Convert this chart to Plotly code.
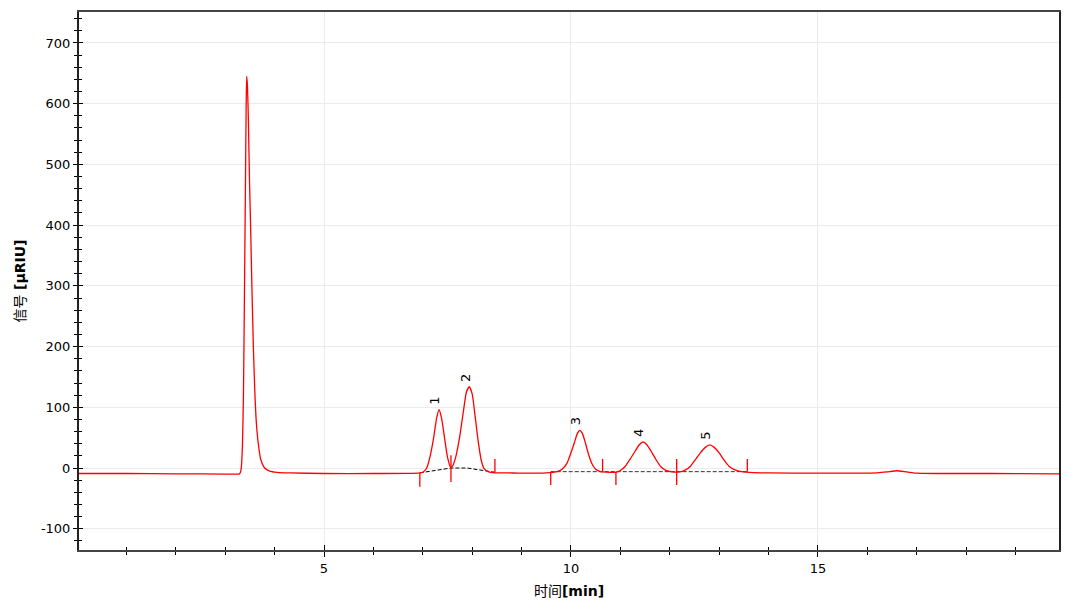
import plotly.graph_objects as go

# chromatogram trace (time in min, signal in µRIU)
time_min = [0.04, 1.0, 2.0, 3.0, 3.20, 3.28, 3.31, 3.33, 3.35, 3.37, 3.39, 3.41, 3.425, 3.435,
            3.45, 3.47, 3.49, 3.515, 3.54, 3.57, 3.60, 3.63, 3.67, 3.72, 3.80, 3.90, 4.05,
            4.3, 5.0, 6.0, 6.9, 7.00, 7.08, 7.15, 7.22, 7.28, 7.33, 7.38, 7.44, 7.50, 7.56,
            7.60, 7.66, 7.74, 7.82, 7.88, 7.94, 8.00, 8.06, 8.12, 8.18, 8.24, 8.32, 8.45,
            8.7, 9.0, 9.5, 9.72, 9.82, 9.92, 10.00, 10.07, 10.13, 10.18, 10.23, 10.29, 10.35,
            10.42, 10.50, 10.60, 10.8, 10.9, 11.0, 11.1, 11.2, 11.3, 11.38, 11.46, 11.54,
            11.62, 11.72, 11.82, 11.92, 12.05, 12.2, 12.3, 12.42, 12.52, 12.62, 12.72, 12.81,
            12.90, 13.00, 13.10, 13.20, 13.32, 13.45, 13.7, 14.0, 15.0, 15.8, 16.2, 16.4,
            16.59, 16.8, 17.0, 17.5, 18.5, 19.88]
signal = [-9, -9, -9.5, -10, -10, -10, -7, 5, 40, 125, 290, 470, 600, 645,
          630, 570, 480, 395, 300, 200, 125, 75, 40, 14, 0, -5, -7,
          -8, -9, -9, -8.5, -7, 0, 20, 50, 82, 96, 82, 50, 18, 2,
          3, 16, 48, 92, 124, 134, 122, 85, 45, 14, -1, -6, -8,
          -8, -8.5, -8, -6, -2, 8, 25, 42, 57, 62, 57, 42, 24,
          8, -2, -6, -7, -7, -4, 3, 15, 28, 38, 43, 38,
          28, 14, 2, -4, -6.5, -6.5, -4, 3, 14, 25, 34, 38,
          34, 25, 13, 3, -3, -6, -7.5, -8, -8.5, -8.5, -8, -6.5,
          -4.5, -6.5, -8.5, -9, -9, -9.5]

# axis ticks
x_ticks = [5, 10, 15]
y_ticks = [-100, 0, 100, 200, 300, 400, 500, 600, 700]
y_ticktext = ['-100', '0', '100', '200', '300', '400', '500', '600', '700']

# peak labels
peak_names = ['1', '2', '3', '4', '5']
peak_times = [7.33, 7.94, 10.18, 11.46, 12.81]
peak_heights = [96, 134, 62, 43, 38]

# integration marks: start/end drop lines (time, from, to)
mark_times = [6.94, 7.57, 8.46, 9.59, 10.64, 10.91, 12.14, 13.57]
mark_low = [-31, -23, -7, -28, -6, -28, -28, -6]
mark_high = [-8, 21, 15, -6, 15, -6, 15, 15]

# dashed baselines
base1_t = [6.94, 7.57, 7.9, 8.46]
base1_v = [-8, 0, 0, -7]
base2_t = [9.59, 13.57]
base2_v = [-6, -6]

fig = go.Figure()

fig.add_trace(go.Scatter(x=base1_t, y=base1_v, mode='lines',
                         line=dict(color='black', width=1, dash='4px,2px'), hoverinfo='skip'))
fig.add_trace(go.Scatter(x=base2_t, y=base2_v, mode='lines',
                         line=dict(color='#333333', width=1, dash='4px,2px'), hoverinfo='skip'))

mx, my = [], []
for t, lo, hi in zip(mark_times, mark_low, mark_high):
    mx += [t, t, None]
    my += [lo, hi, None]
fig.add_trace(go.Scatter(x=mx, y=my, mode='lines', line=dict(color='red', width=1.3),
                         hoverinfo='skip'))

fig.add_trace(go.Scatter(x=time_min, y=signal, mode='lines',
                         line=dict(color='#ff0000', width=1.3, shape='spline', smoothing=0.5)))

# dummy trace for the inward tick axes
fig.add_trace(go.Scatter(x=[1], y=[0], xaxis='x2', yaxis='y2', mode='markers',
                         marker=dict(opacity=0), hoverinfo='skip'))

for name, t, h in zip(peak_names, peak_times, peak_heights):
    fig.add_annotation(x=t, y=h, text=name, showarrow=False, textangle=-90,
                       xshift=-4, yshift=3, yanchor='bottom',
                       font=dict(family='DejaVu Sans', size=13, color='black'))

x_range = [0.04, 19.88]
y_range = [-135, 751]

# page body has an 8px margin, so the figure is a bit smaller and margins shifted
fig.update_layout(
    width=1072, height=605,
    margin=dict(l=71, r=21, t=4, b=63),
    plot_bgcolor='white', paper_bgcolor='white',
    showlegend=False,
    font=dict(family='DejaVu Sans', size=13, color='black'),
    xaxis=dict(range=x_range, tickvals=x_ticks, ticks='outside', ticklen=5, automargin=False,
               tickcolor='black', showgrid=True, gridcolor='#ebebeb', zeroline=False,
               showline=True, linecolor='#444444', linewidth=2, mirror=True,
               minor=dict(dtick=1, tick0=0, ticks='outside', ticklen=3, tickcolor='black'),
               title=dict(text='<span style="font-family:Noto Sans CJK SC">时间</span><b>[min]</b>',
                          font=dict(size=14), standoff=12)),
    yaxis=dict(range=y_range, tickvals=y_ticks, ticktext=y_ticktext, ticks='outside',
               ticklen=4, tickcolor='black', automargin=False,
               showgrid=True, gridcolor='#ebebeb', zeroline=False,
               showline=True, linecolor='#222222', linewidth=2, mirror=True,
               minor=dict(dtick=20, ticks='outside', ticklen=3, tickcolor='black'),
               title=dict(text='<span style="font-family:Noto Sans CJK SC">信号</span> <b>[µRIU]</b>',
                          font=dict(size=14), standoff=12)),
    xaxis2=dict(overlaying='x', matches='x', range=x_range, tickvals=x_ticks,
                ticks='inside', ticklen=5, tickcolor='black', showticklabels=False,
                showgrid=False, zeroline=False, automargin=False,
                minor=dict(dtick=1, tick0=0, ticks='inside', ticklen=3, tickcolor='black')),
    yaxis2=dict(overlaying='y', matches='y', range=y_range, tickvals=y_ticks, ticks='inside',
                ticklen=4, tickcolor='black', showticklabels=False, showgrid=False,
                zeroline=False, automargin=False,
                minor=dict(dtick=20, ticks='inside', ticklen=3, tickcolor='black')),
)

fig.write_html("out.html")
